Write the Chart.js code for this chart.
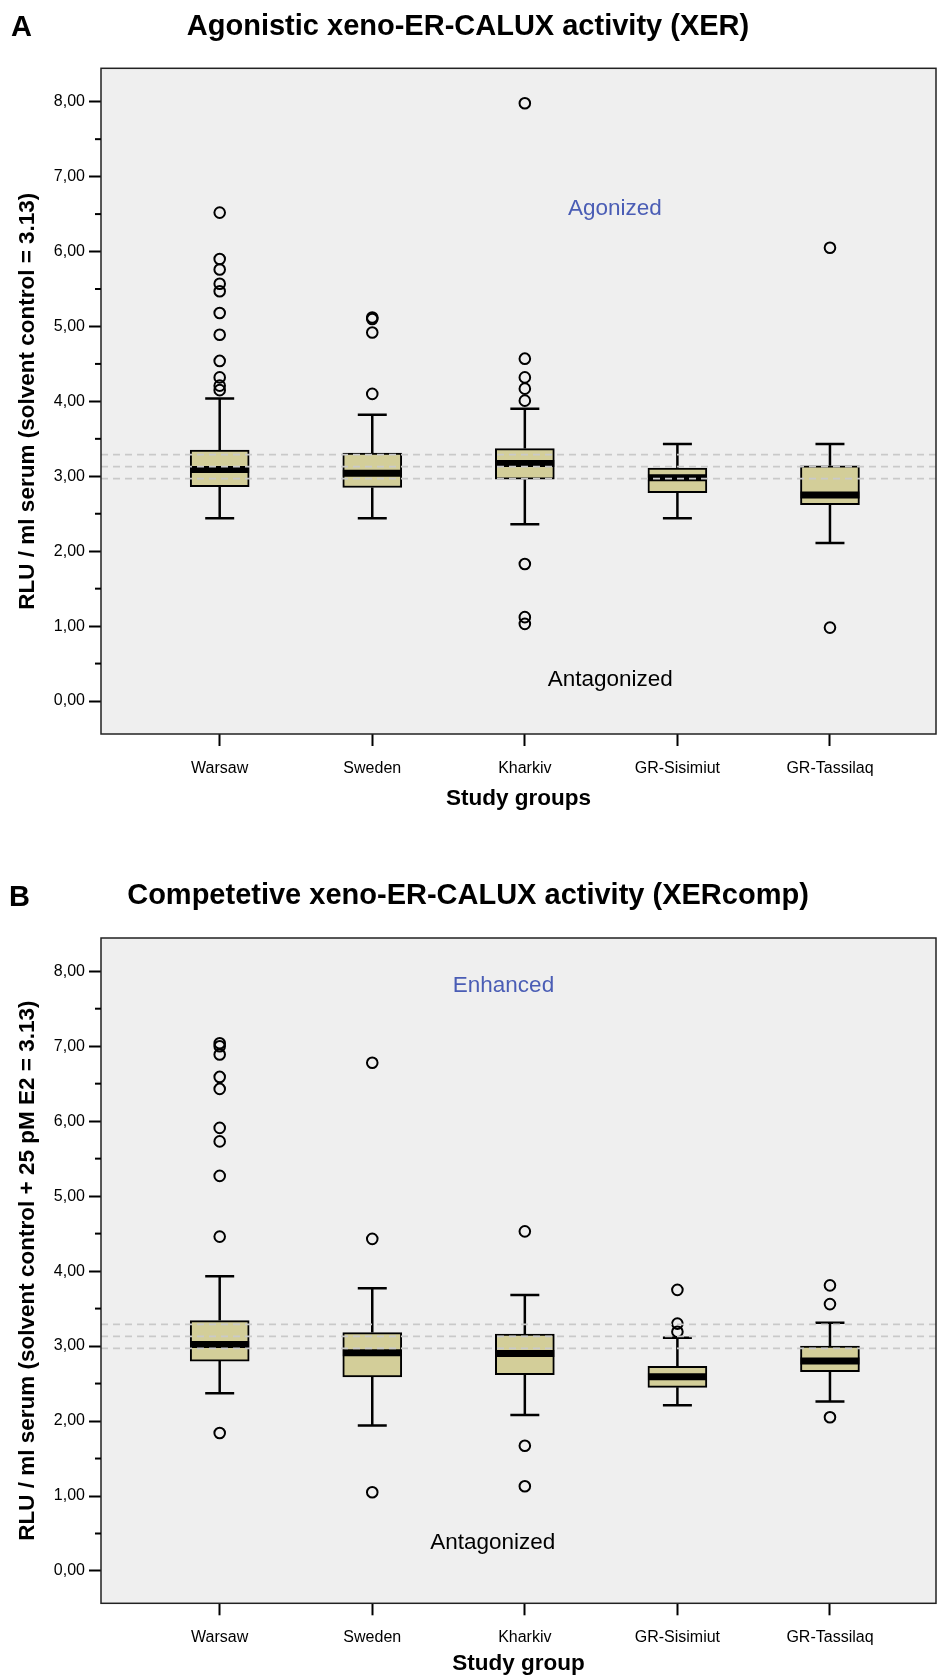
<!DOCTYPE html>
<html>
<head>
<meta charset="utf-8">
<script src="https://cdn.jsdelivr.net/npm/chart.js@4.4.1/dist/chart.umd.min.js"></script>
<style>
  html, body { margin: 0; padding: 0; background: #fff; }
  #page { position: relative; width: 937px; height: 1677px; overflow: hidden; }
  .panel { position: absolute; left: 0; width: 937px; }
  .letter { position: absolute; font: bold 29px 'Liberation Sans', Arial, sans-serif; color: #000; line-height: 33px; }
</style>
</head>
<body>
<div id="page">
  <div class="panel" style="top:0;height:838px"><canvas id="chartA" width="937" height="838"></canvas></div>
  <div class="letter" style="left:11px;top:10px">A</div>
  <div class="panel" style="top:838px;height:839px"><canvas id="chartB" width="937" height="839"></canvas></div>
  <div class="letter" style="left:9px;top:880px">B</div>
</div>
<script>
const FONT = "'Liberation Sans', Arial, sans-serif";

const groups = ['Warsaw', 'Sweden', 'Kharkiv', 'GR-Sisimiut', 'GR-Tassilaq'];
const yTicks = [0, 1, 2, 3, 4, 5, 6, 7, 8];
const yMinorTicks = [0.5, 1.5, 2.5, 3.5, 4.5, 5.5, 6.5, 7.5];
const controlLines = [3.29, 3.13, 2.97];   // solvent control 3.13 +/- 5%

// Panel A - agonistic XER
const xerLow = [2.44, 2.44, 2.36, 2.44, 2.11];
const xerQ1 = [2.86, 2.85, 2.96, 2.78, 2.62];
const xerMedian = [3.09, 3.04, 3.17, 2.98, 2.75];
const xerQ3 = [3.35, 3.31, 3.37, 3.11, 3.14];
const xerHigh = [4.04, 3.82, 3.90, 3.43, 3.43];
const xerOutliers = [
    [6.52, 5.90, 5.76, 5.57, 5.47, 5.18, 4.89, 4.54, 4.32, 4.21, 4.15],
    [5.12, 5.10, 4.92, 4.10],
    [7.98, 4.57, 4.32, 4.17, 4.01, 1.83, 1.12, 1.03],
    [],
    [6.05, 0.98]
];

// Panel B - competitive XERcomp
const compLow = [2.37, 1.94, 2.08, 2.21, 2.26];
const compQ1 = [2.80, 2.59, 2.62, 2.45, 2.66];
const compMedian = [3.02, 2.91, 2.90, 2.59, 2.80];
const compQ3 = [3.34, 3.18, 3.16, 2.73, 3.00];
const compHigh = [3.93, 3.77, 3.68, 3.11, 3.31];
const compOutliers = [
    [7.04, 7.00, 6.89, 6.59, 6.43, 5.91, 5.73, 5.27, 4.46, 1.84],
    [6.78, 4.43, 1.05],
    [4.53, 1.67, 1.13],
    [3.75, 3.30, 3.19],
    [3.81, 3.56, 2.05]
];

// x axis runs a bit wider than the 5 groups (SPSS style padding)
const X_MIN = 0.222, X_MAX = 5.695;
const CAP = 0.095;      // half width of whisker caps, in group units
const HALF_BOX = 0.193; // half width of the box, in group units

function buildDatasets(low, q1, med, q3, high, outliers) {
    const boxes = groups.map((g, i) => ({ x: i + 1, y: [q1[i], q3[i]] }));

    const whiskers = [];
    const medians = [];
    groups.forEach((g, i) => {
        const x = i + 1;
        whiskers.push(
            { x: x, y: q3[i] }, { x: x, y: high[i] }, { x: x, y: null },
            { x: x - CAP, y: high[i] }, { x: x + CAP, y: high[i] }, { x: x, y: null },
            { x: x, y: q1[i] }, { x: x, y: low[i] }, { x: x, y: null },
            { x: x - CAP, y: low[i] }, { x: x + CAP, y: low[i] }, { x: x, y: null }
        );
        medians.push({ x: x - HALF_BOX, y: med[i] }, { x: x + HALF_BOX, y: med[i] }, { x: x, y: null });
    });

    const points = [];
    outliers.forEach((list, i) => list.forEach(v => points.push({ x: i + 1, y: v })));

    const refs = controlLines.map(v => ({
        type: 'line',
        data: [{ x: X_MIN, y: v }, { x: X_MAX, y: v }],
        borderColor: '#c9c9c9',
        borderWidth: 1.8,
        borderDash: [7, 5],
        pointRadius: 0,
        order: 0
    }));

    return [
        {
            type: 'bar',
            data: boxes,
            backgroundColor: '#d3ce99',
            borderColor: '#000',
            borderWidth: 2,
            borderSkipped: false,
            barThickness: 59,
            grouped: false,
            order: 4
        },
        {
            type: 'line',
            data: whiskers,
            borderColor: '#000',
            borderWidth: 2.5,
            borderCapStyle: 'butt',
            pointRadius: 0,
            spanGaps: false,
            order: 5
        },
        {
            type: 'line',
            data: medians,
            borderColor: '#000',
            borderWidth: 7,
            borderCapStyle: 'butt',
            pointRadius: 0,
            spanGaps: false,
            order: 3
        },
        {
            type: 'scatter',
            data: points,
            pointStyle: 'circle',
            pointRadius: 5.3,
            borderWidth: 2,
            borderColor: '#000',
            backgroundColor: 'rgba(0,0,0,0)',
            order: 2
        },
        ...refs
    ];
}

// grey panel, frame, minor ticks and the text notes
const panelPlugin = {
    id: 'panel',
    beforeDraw(chart) {
        const a = chart.chartArea;
        const ctx = chart.ctx;
        ctx.save();
        ctx.fillStyle = '#efefef';
        ctx.fillRect(a.left, a.top, a.right - a.left, a.bottom - a.top);
        ctx.restore();
    },
    afterDraw(chart, args, opts) {
        const a = chart.chartArea;
        const ctx = chart.ctx;
        const ys = chart.scales.y;
        const xs = chart.scales.x;
        ctx.save();
        ctx.strokeStyle = '#222';
        ctx.lineWidth = 1.5;
        ctx.strokeRect(a.left, a.top, a.right - a.left, a.bottom - a.top);

        ctx.strokeStyle = '#000';
        ctx.lineWidth = 2;
        yMinorTicks.forEach(v => {
            const y = ys.getPixelForValue(v);
            ctx.beginPath();
            ctx.moveTo(a.left - 6, y);
            ctx.lineTo(a.left, y);
            ctx.stroke();
        });

        ctx.textAlign = 'center';
        ctx.textBaseline = 'middle';
        ctx.font = '22.5px ' + FONT;
        (opts.notes || []).forEach(n => {
            ctx.fillStyle = n.color;
            ctx.fillText(n.text, xs.getPixelForValue(n.x), ys.getPixelForValue(n.y));
        });
        ctx.restore();
    }
};

function noPadding(s) {
    s.paddingLeft = 0;
    s.paddingRight = 0;
    s.paddingTop = 0;
    s.paddingBottom = 0;
}

function makeChart(id, cfg) {
    return new Chart(document.getElementById(id), {
        type: 'bar',
        data: { datasets: buildDatasets(cfg.low, cfg.q1, cfg.med, cfg.q3, cfg.high, cfg.outliers) },
        plugins: [panelPlugin],
        options: {
            responsive: false,
            animation: false,
            layout: { autoPadding: false, padding: { top: 0, right: 1, bottom: cfg.padBottom, left: 0 } },
            plugins: {
                legend: { display: false },
                tooltip: { enabled: false },
                title: {
                    display: true,
                    text: cfg.title,
                    color: '#000',
                    font: { size: 29, weight: 'bold', family: FONT },
                    padding: { top: cfg.titleTop, bottom: cfg.titleBottom }
                },
                panel: { notes: cfg.notes }
            },
            scales: {
                x: {
                    type: 'linear',
                    min: X_MIN,
                    max: X_MAX,
                    offset: false,
                    afterBuildTicks: s => { s.ticks = groups.map((g, i) => ({ value: i + 1 })); },
                    afterFit: s => { s.height = cfg.xHeight; noPadding(s); },
                    border: { display: false },
                    grid: { offset: false, drawOnChartArea: false, drawTicks: true, tickLength: 12, tickColor: '#000', tickWidth: 2 },
                    ticks: {
                        autoSkip: false,
                        maxRotation: 0,
                        padding: 13,
                        color: '#000',
                        font: { size: 16, family: FONT },
                        callback: (v, i) => groups[i]
                    },
                    title: {
                        display: true,
                        text: cfg.xTitle,
                        color: '#000',
                        font: { size: 22.5, weight: 'bold', family: FONT },
                        padding: { top: 0, bottom: 0 }
                    }
                },
                y: {
                    type: 'linear',
                    min: cfg.yMin,
                    max: cfg.yMax,
                    afterBuildTicks: s => { s.ticks = yTicks.map(v => ({ value: v })); },
                    afterFit: s => { s.width = 101; noPadding(s); },
                    border: { display: false },
                    grid: { drawOnChartArea: false, drawTicks: true, tickLength: 12, tickColor: '#000', tickWidth: 2 },
                    ticks: {
                        padding: 4,
                        color: '#000',
                        font: { size: 16, family: FONT },
                        callback: v => v.toFixed(2).replace('.', ',')
                    },
                    title: {
                        display: true,
                        text: cfg.yTitle,
                        color: '#000',
                        font: { size: 22.5, weight: 'bold', family: FONT },
                        padding: { top: 14, bottom: 0 }
                    }
                }
            }
        }
    });
}

makeChart('chartA', {
    low: xerLow, q1: xerQ1, med: xerMedian, q3: xerQ3, high: xerHigh, outliers: xerOutliers,
    title: 'Agonistic xeno-ER-CALUX activity (XER)',
    yTitle: 'RLU / ml serum (solvent control = 3.13)',
    xTitle: 'Study groups',
    yMin: -0.44, yMax: 8.446,
    titleTop: 9.6, titleBottom: 23.9,
    padBottom: 26, xHeight: 78,
    notes: [
        { text: 'Agonized', x: 3.59, y: 6.57, color: '#4a5db5' },
        { text: 'Antagonized', x: 3.56, y: 0.29, color: '#000' }
    ]
});

makeChart('chartB', {
    low: compLow, q1: compQ1, med: compMedian, q3: compQ3, high: compHigh, outliers: compOutliers,
    title: 'Competetive xeno-ER-CALUX activity (XERcomp)',
    yTitle: 'RLU / ml serum (solvent control + 25 pM E2 = 3.13)',
    xTitle: 'Study group',
    yMin: -0.431, yMax: 8.443,
    titleTop: 40.6, titleBottom: 24.6,
    padBottom: 0, xHeight: 73.7,
    notes: [
        { text: 'Enhanced', x: 2.86, y: 7.80, color: '#4a5db5' },
        { text: 'Antagonized', x: 2.79, y: 0.38, color: '#000' }
    ]
});
</script>
</body>
</html>
